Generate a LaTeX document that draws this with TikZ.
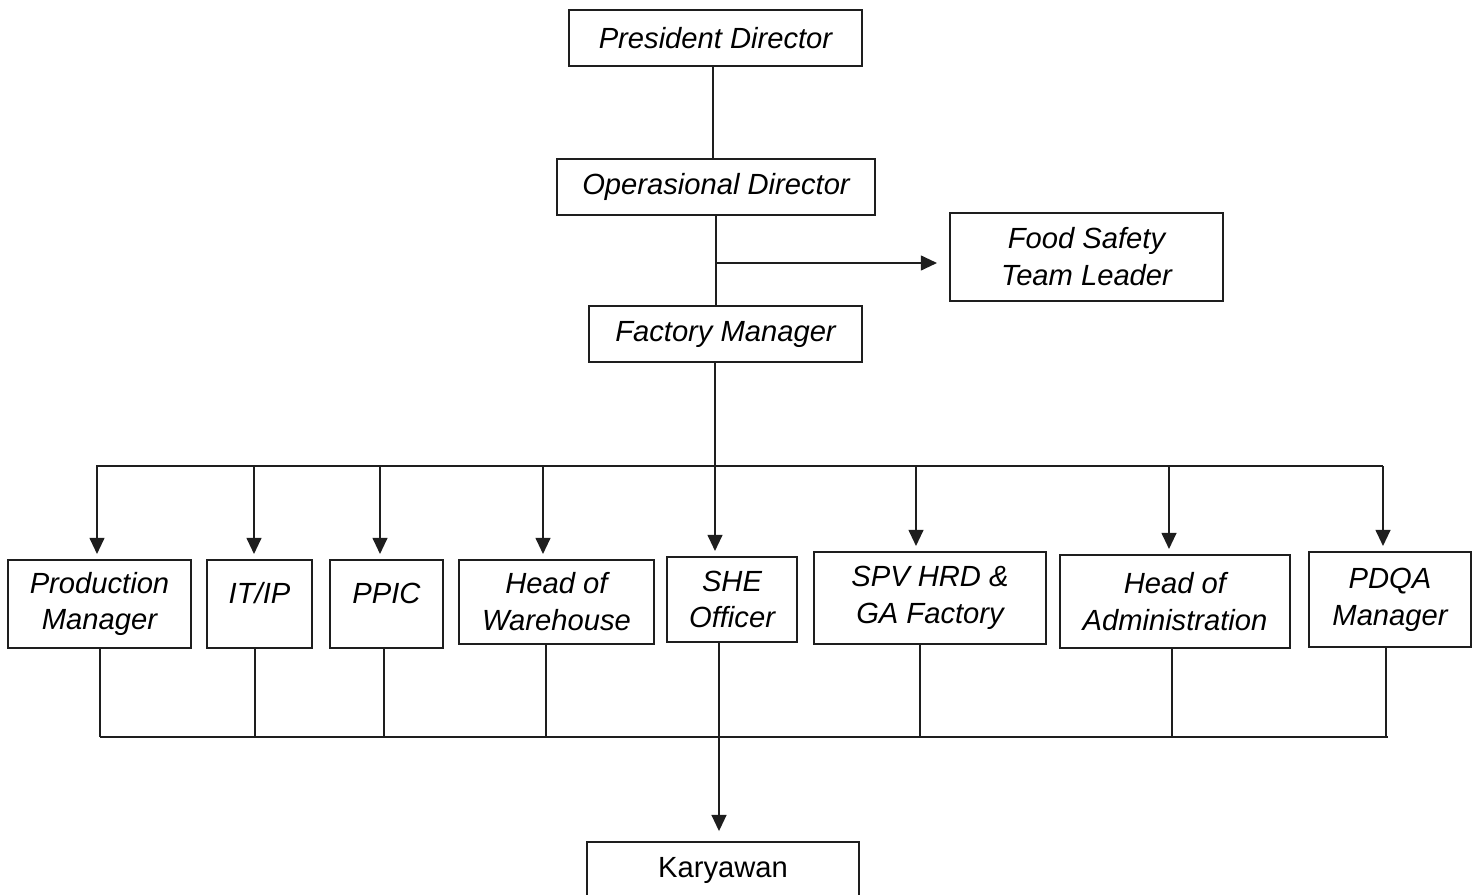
\documentclass[tikz,border=0pt]{standalone}
\usepackage{fontspec}
\setmainfont{Liberation Sans}
\usepackage{tikz}
\usetikzlibrary{arrows.meta,positioning}
\definecolor{OrgLine}{RGB}{30,30,30}

\begin{document}
\begin{tikzpicture}[
role/.style={
draw=OrgLine,
line width=0.6pt,
inner sep=1pt,
align=center,
font=\fontsize{8.3}{10.5}\selectfont\itshape
},
oneline/.style={
role,
text height=6pt,
text depth=6.5pt
},
link/.style={
draw=OrgLine,
line width=0.6pt
},
arr/.style={
link,
-{Triangle[width=4.2pt,length=4.6pt]},
shorten >=1.4pt
}
]

\clip (0,0) rectangle (14.78,-8.95);
\fill[white] (0,0) rectangle (14.78,-8.95);

\node[role,minimum width=2.93cm,minimum height=0.56cm] (pd) at (7.155,-0.38) {President Director};
\node[role,minimum width=3.18cm,minimum height=0.56cm] (od) at (7.16,-1.87) {Operasional Director};
\node[role,minimum width=2.73cm,minimum height=0.88cm] (fstl) at (10.865,-2.57) {Food Safety\\Team Leader};
\node[role,minimum width=2.73cm,minimum height=0.56cm] (fm) at (7.255,-3.34) {Factory Manager};

\node[role,minimum width=1.83cm,minimum height=0.88cm] (prod) at (0.995,-6.04) {Production\\Manager};
\node[oneline,minimum width=1.05cm,minimum height=0.88cm] (itip) at (2.595,-6.04) {IT/IP};
\node[oneline,minimum width=1.13cm,minimum height=0.88cm] (ppic) at (3.865,-6.04) {PPIC};
\node[role,minimum width=1.95cm,minimum height=0.84cm] (how) at (5.565,-6.02) {Head of\\Warehouse};
\node[role,minimum width=1.30cm,minimum height=0.85cm] (she) at (7.32,-5.995) {SHE\\Officer};
\node[role,minimum width=2.32cm,minimum height=0.92cm] (spv) at (9.30,-5.98) {SPV HRD \&\\GA Factory};
\node[role,minimum width=2.30cm,minimum height=0.93cm] (hoa) at (11.75,-6.015) {Head of\\Administration};
\node[role,minimum width=1.62cm,minimum height=0.95cm] (pdqa) at (13.90,-5.995) {PDQA\\Manager};

\node[role,font=\fontsize{8.3}{10.5}\selectfont,minimum width=2.72cm,minimum height=0.56cm] (kary) at (7.23,-8.70) {Karyawan};

\coordinate (fmout) at (7.15,-3.62);
\coordinate (busL) at (0.96,-4.66);
\coordinate (busR) at (13.83,-4.66);
\coordinate (baseL) at (1.00,-7.37);
\coordinate (baseR) at (13.88,-7.37);

\draw[link] (7.13,0 |- pd.south) -- (7.13,0 |- od.north);
\draw[link] (7.16,0 |- od.south) -- (7.16,0 |- fm.north);
\draw[arr,shorten >=3.4pt] (7.16,-2.63) -- ([yshift=-0.06cm]fstl.west);
\draw[arr] (fmout) -- (fmout |- she.north);

\draw[link] (busL) -- (busR);
\foreach \n/\x in {prod/0.97,itip/2.54,ppic/3.80,how/5.43,spv/9.16,hoa/11.69,pdqa/13.83}
\draw[arr] (\x,0 |- busL) -- (\x,0 |- \n.north);

\draw[link] (baseL) -- (baseR);
\foreach \n/\x in {prod/1.00,itip/2.55,ppic/3.84,how/5.46,spv/9.20,hoa/11.72,pdqa/13.86}
\draw[link] (\x,0 |- \n.south) -- (\x,0 |- baseL);

\draw[arr,shorten >=2.8pt] (7.19,0 |- she.south) -- (7.19,0 |- kary.north);

\end{tikzpicture}
\end{document}
